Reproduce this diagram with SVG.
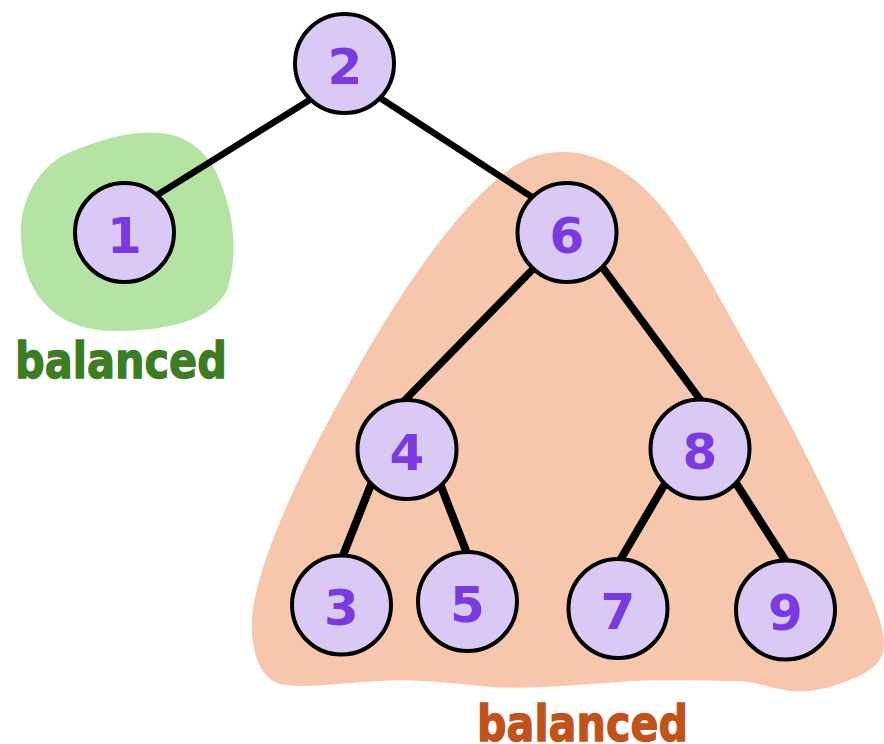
<svg xmlns="http://www.w3.org/2000/svg" width="884" height="744" viewBox="0 0 884 744">
  <style>
    .node circle { fill: #dac9f5; stroke: #000; stroke-width: 4; }
    .node text { font-family: "DejaVu Sans", Verdana, sans-serif; font-weight: bold; font-size: 50px; fill: #7a3ae0; text-anchor: middle; }
    .edge { stroke: #000; stroke-linecap: butt; fill: none; }
    .label { font-family: "DejaVu Sans", Verdana, sans-serif; font-weight: bold; font-size: 49px; stroke-width: 1.3; }
  </style>

  <!-- highlighted subtrees -->
  <g id="regions">
    <path id="left-region" fill="#b4e3a4" d="M 21,240 C 18,200 40,165 70,152 C 100,140 130,130 160,133 C 195,136 215,160 225,195 C 235,225 237,260 227,290 C 212,320 170,330 120,331 C 80,332 55,318 40,298 C 28,282 22,262 21,240 Z"/>
    <path id="right-region" fill="#f6c7ac" d="M 560,152 C 600,151 635,175 660,205 C 690,240 720,300 750,352 C 790,420 830,500 860,570 C 875,605 884,625 884,645 C 884,662 870,672 850,680 C 825,690 805,693 790,691 C 770,688 752,680 730,681 C 700,681 660,679 620,682 C 560,686 520,690 480,686 C 440,682 410,679 380,681 C 340,683 310,688 285,685 C 262,682 250,655 252,618 C 256,570 290,490 340,400 C 380,325 430,245 480,195 C 510,165 530,153 560,152 Z"/>
  </g>

  <!-- tree edges -->
  <g id="edges" class="edges">
    <line class="edge" stroke-width="6.5" x1="316" y1="96" x2="154" y2="197"/>
    <line class="edge" stroke-width="6.5" x1="374" y1="94" x2="538" y2="201"/>
    <line class="edge" stroke-width="7.5" x1="536" y1="266" x2="403" y2="402"/>
    <line class="edge" stroke-width="7.5" x1="600" y1="264" x2="702" y2="402"/>
    <line class="edge" stroke-width="8" x1="372" y1="482" x2="342" y2="558"/>
    <line class="edge" stroke-width="8" x1="439" y1="481" x2="468" y2="556"/>
    <line class="edge" stroke-width="8" x1="666" y1="482" x2="619" y2="562"/>
    <line class="edge" stroke-width="8" x1="734" y1="480" x2="787" y2="563"/>
  </g>

  <!-- tree nodes -->
  <g id="node-2" class="node"><circle cx="344.5" cy="63.5" r="49.5"/><text x="345" y="83.5">2</text></g>
  <g id="node-1" class="node"><circle cx="124.5" cy="232.5" r="49.5"/><text x="124.5" y="252.5">1</text></g>
  <g id="node-6" class="node"><circle cx="567" cy="232.5" r="49.5"/><text x="567" y="252.5">6</text></g>
  <g id="node-4" class="node"><circle cx="407" cy="449.5" r="49.5"/><text x="407" y="469.5">4</text></g>
  <g id="node-8" class="node"><circle cx="700" cy="449" r="49.5"/><text x="700" y="469">8</text></g>
  <g id="node-3" class="node"><circle cx="341.5" cy="605" r="49.5"/><text x="341.5" y="625">3</text></g>
  <g id="node-5" class="node"><circle cx="467.5" cy="601.5" r="49.5"/><text x="467.5" y="621.5">5</text></g>
  <g id="node-7" class="node"><circle cx="618" cy="608.5" r="49.5"/><text x="618" y="628.5">7</text></g>
  <g id="node-9" class="node"><circle cx="785.5" cy="610" r="49.5"/><text x="785.5" y="630">9</text></g>

  <!-- region captions -->
  <text class="label" fill="#3c7c22" stroke="#3c7c22" x="15" y="378" textLength="212" lengthAdjust="spacingAndGlyphs">balanced</text>
  <text class="label" fill="#c0521a" stroke="#c0521a" x="477" y="741" textLength="211" lengthAdjust="spacingAndGlyphs">balanced</text>
</svg>
